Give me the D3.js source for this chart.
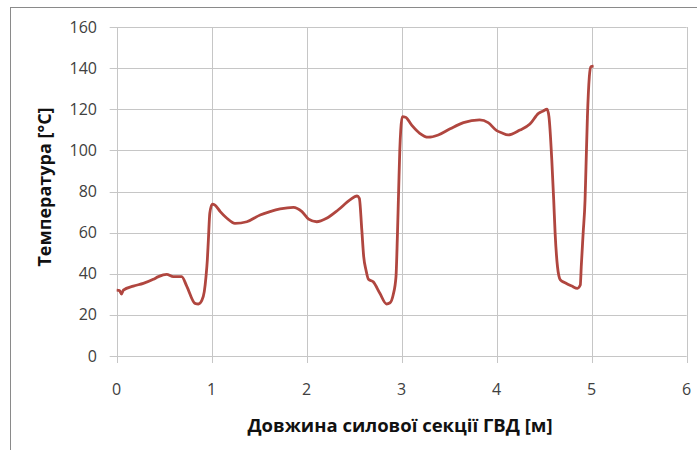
<!DOCTYPE html>
<html><head><meta charset="utf-8">
<script src="https://cdn.jsdelivr.net/npm/d3@7"></script>
<style>body{margin:0;background:#fff}svg{display:block}</style>
</head><body><svg id="c" width="697" height="450"></svg>
<script>
const xTicks = [0,1,2,3,4,5,6];
const yTicks = [0,20,40,60,80,100,120,140,160];
const xTitle = "Довжина силової секції ГВД [м]";
const yTitle = "Температура [°C]";
const lengthM = [0.0,0.03,0.05,0.07,0.175,0.28,0.385,0.44,0.526,0.596,0.684,0.737,0.824,0.86,0.895,0.922,0.94,0.954,0.965,0.98,1.006,1.035,1.09,1.16,1.245,1.37,1.51,1.614,1.72,1.86,1.95,2.02,2.105,2.21,2.33,2.455,2.53,2.554,2.58,2.6,2.624,2.65,2.70,2.77,2.84,2.877,2.91,2.94,2.954,2.968,2.98,2.99,3.006,3.04,3.105,3.19,3.28,3.385,3.51,3.65,3.82,3.91,4.0,4.05,4.12,4.245,4.35,4.44,4.49,4.53,4.55,4.58,4.60,4.615,4.64,4.67,4.72,4.79,4.85,4.88,4.89,4.91,4.93,4.94,4.955,4.975,4.99,5.02];
const tempC = [32,31.8,30.1,32,34,35.3,37.3,38.6,39.7,38.6,38.6,34,25.6,25.3,26.9,31.3,38.6,46.7,56.4,69.4,73.9,73.4,70.2,67,64.5,65.3,68.6,70.2,71.5,72.3,70.2,66.6,65.3,67,71,75.9,77.8,76.7,61.3,48.3,41.8,37.3,36.1,30.5,25.3,25.9,29.7,38.6,57.2,80.7,100.2,109.9,116.4,116.1,112.3,108.3,106.4,107.5,110.5,113.5,114.8,113.5,109.6,108.6,107.5,109.9,112.8,118,119.2,120,116.4,95.3,75.9,59.7,43.4,37,35.6,34,32.9,34.5,43.4,59.7,75.9,92,116.4,135.8,140.7,141];

const svg = d3.select("#c");
svg.append("rect").attr("x",10.5).attr("y",7.5).attr("width",700).attr("height",460)
  .attr("fill","none").attr("stroke","#8a8a8a").attr("stroke-width",1);

const x = d3.scaleLinear().domain([0,6]).range([116.7,686.7]);
const y = d3.scaleLinear().domain([0,160]).range([356,27]);
const grid = "#c6c6c6";
const font = "'Open Sans', sans-serif";

svg.append("g").selectAll("line").data(yTicks).join("line")
  .attr("x1",x(0)-7).attr("x2",x(6)).attr("y1",d=>Math.round(y(d))+0.5).attr("y2",d=>Math.round(y(d))+0.5)
  .attr("stroke",grid).attr("stroke-width",1);
svg.append("g").selectAll("line").data(xTicks).join("line")
  .attr("x1",d=>Math.round(x(d))+0.5).attr("x2",d=>Math.round(x(d))+0.5).attr("y1",y(160)).attr("y2",y(0)+7)
  .attr("stroke",grid).attr("stroke-width",1);

svg.append("g").selectAll("text").data(yTicks).join("text")
  .attr("x",97).attr("y",d=>y(d)).attr("dy","0.35em").attr("text-anchor","end")
  .attr("font-family",font).attr("font-size",16).attr("fill","#404040").text(d=>d);
svg.append("g").selectAll("text").data(xTicks).join("text")
  .attr("x",d=>x(d)).attr("y",389).attr("dy","0.35em").attr("text-anchor","middle")
  .attr("font-family",font).attr("font-size",16).attr("fill","#404040").text(d=>d);

svg.append("text").attr("x",400).attr("y",432).attr("text-anchor","middle")
  .attr("font-family",font).attr("font-weight","bold").attr("font-size",18.5).attr("fill","#111").text(xTitle);
svg.append("text").attr("transform","translate(51,187) rotate(-90)").attr("text-anchor","middle")
  .attr("font-family",font).attr("font-weight","bold").attr("font-size",18).attr("fill","#111").text(yTitle);

const pts = lengthM.map((v,i)=>[v,tempC[i]]);
svg.append("path").datum(pts)
  .attr("d", d3.line().x(d=>x(d[0])).y(d=>y(d[1])).curve(d3.curveMonotoneX))
  .attr("fill","none").attr("stroke","#b0463f").attr("stroke-width",2.8).attr("stroke-linejoin","round");
</script></body></html>
